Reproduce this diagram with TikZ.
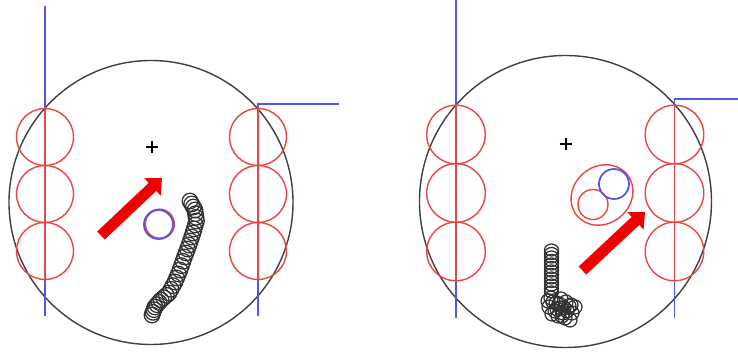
\documentclass[tikz,border=0pt]{standalone}
\usetikzlibrary{arrows.meta,calc}
\definecolor{lblue}{RGB}{85,85,230}
\definecolor{lred}{RGB}{235,70,70}
\definecolor{bigred}{RGB}{240,0,0}
\definecolor{chaincol}{RGB}{50,50,50}
\tikzset{
  outline/.style={draw=black!75,line width=0.4pt},
  guide/.style={draw=lblue,line width=0.45pt},
  redline/.style={draw=lred,line width=0.4pt},
  roller/.style={draw=lred,line width=0.4pt},
  chain/.style={draw=chaincol,line width=0.35pt},
  bigarrow/.style={draw=bigred,line width=0.11cm,-{Triangle[length=0.13cm,width=0.23cm]}},
}
\begin{document}
\begin{tikzpicture}[x=0.01cm,y=-0.01cm]
\useasboundingbox (0,0) rectangle (738,352);
\fill[white] (0,0) rectangle (738,352);
% ---------------- left panel ----------------
\draw[outline] (151,202.5) circle[radius=142];
\draw[black,line width=0.4pt] (146,147) -- (158,147) (152,141) -- (152,153);
\coordinate (L1t) at (45,6);
\coordinate (L1b) at (45,316);
\draw[guide] (L1t) -- (L1b);
\coordinate (R1a) at (339,104);
\coordinate (R1b) at (258,104);
\coordinate (R1c) at (258,316);
\draw[guide] (R1a) -- (R1b) -- (R1c);
\draw[redline] (45,108.5) -- (45,279.5);
\draw[redline] (258,108.5) -- (258,279.5);
\foreach \yy in {137,194,251}{
  \draw[roller] (45,\yy) circle[radius=28.5];
  \draw[roller] (258,\yy) circle[radius=28.5];
}
\draw[lred,line width=0.6pt] (159.5,224) circle[radius=14.5];
\draw[lblue,line width=0.5pt] (158.5,224.5) circle[radius=14.5];
\draw[bigarrow] (101,235.5) -- (162,178);
\foreach \ax/\ay/\bx/\by in {190/201/195/210, 195/210/196.5/221, 196.5/221/193/233, 193/233/189/245, 189/245/184.5/257, 184.5/257/180/270, 180/270/175/282, 175/282/169/293, 169/293/161/300, 161/300/155/307, 155/307/152/315}{
  \foreach \t in {0,0.333,0.667}{
    \draw[chain] ($(\ax,\ay)!\t!(\bx,\by)$) circle[radius=7.8];
  }
}
\draw[chain] (152,315) circle[radius=7.8];
% ---------------- right panel ----------------
\draw[outline] (565.5,201.5) circle[radius=146];
\draw[black,line width=0.4pt] (560,144) -- (572,144) (566,138) -- (566,150);
\coordinate (L2t) at (456,0);
\coordinate (L2b) at (456,318);
\draw[guide] (L2t) -- (L2b);
\coordinate (R2a) at (738,99);
\coordinate (R2b) at (674.5,99);
\coordinate (R2c) at (674.5,318);
\draw[guide] (R2a) -- (R2b) -- (R2c);
\draw[redline] (456,105) -- (456,280);
\draw[redline] (674.5,105) -- (674.5,280);
\foreach \yy in {134.5,193,251.5}{
  \draw[roller] (456,\yy) circle[radius=29.3];
  \draw[roller] (674.5,\yy) circle[radius=29.3];
}
\draw[roller] (602,195) ellipse[x radius=32.5,y radius=28.5,rotate=40];
\draw[roller] (593,204.5) circle[radius=15];
\draw[lblue,line width=0.5pt] (614,184) circle[radius=15];
\draw[bigarrow] (582.5,270.5) -- (645,212);
\foreach \yy in {250,253.5,...,292}{
  \draw[chain] (551.5,\yy) ellipse[x radius=7,y radius=6];
}
\foreach \cx/\cy in {551/298,556/303,561/299,566/302,571/305,549/307,555/311,561/308,567/311,572/313,558/316,565/318,569/306,575/307,552/314,563/313,570/320,553/302,559/304,564/308,557/309,562/316,548/301}{
  \draw[chain] (\cx,\cy) circle[radius=7];
}
\end{tikzpicture}
\end{document}
